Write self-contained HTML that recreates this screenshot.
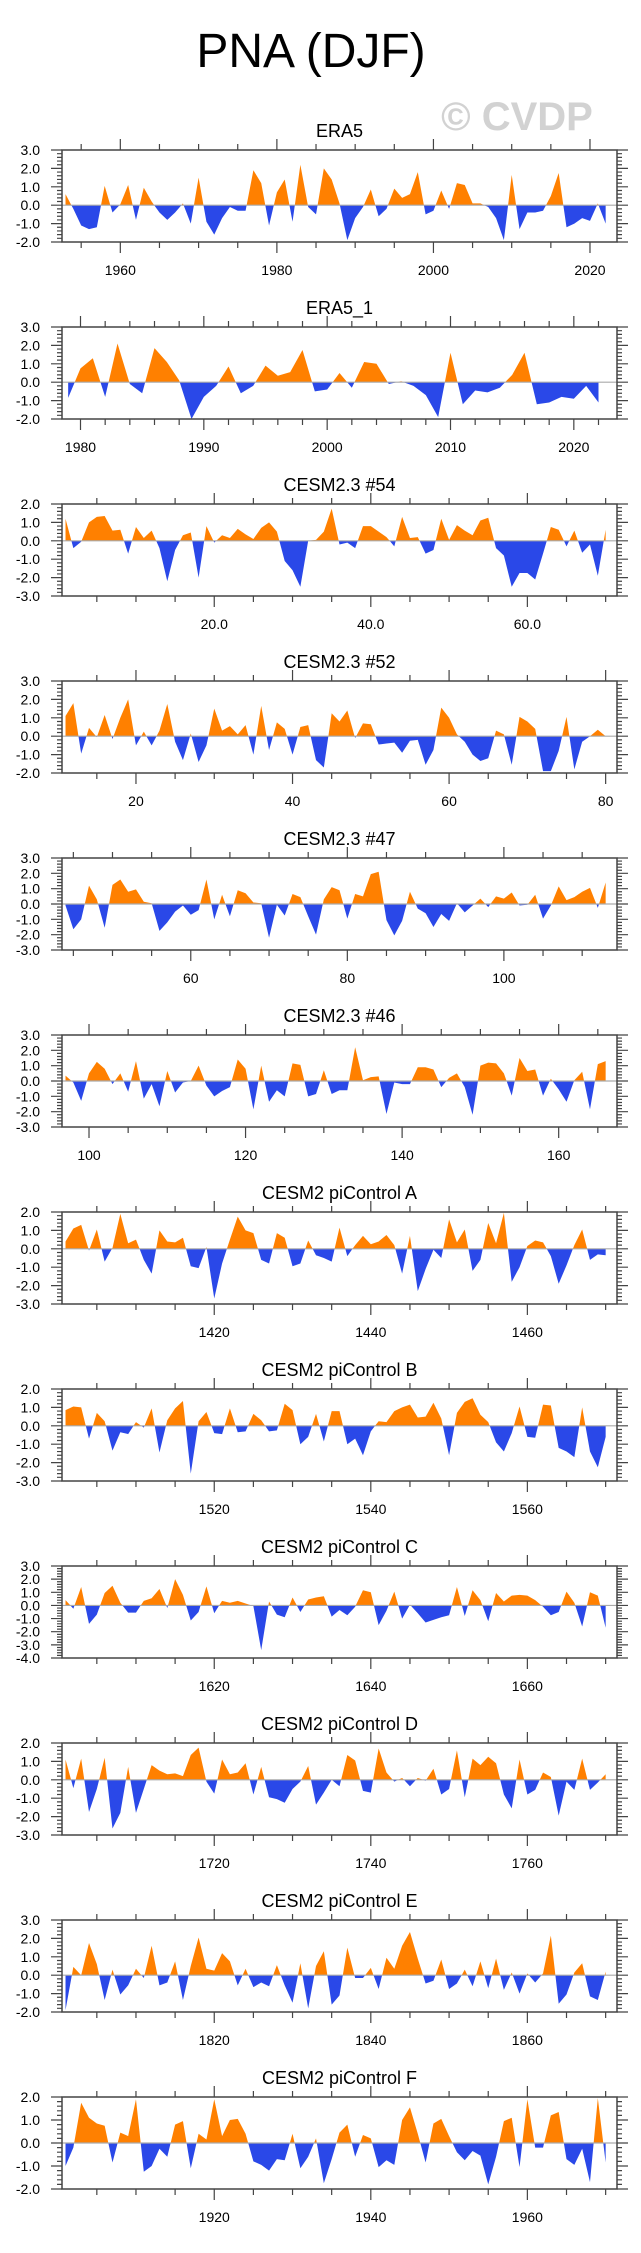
<!DOCTYPE html>
<html><head><meta charset="utf-8"><style>
html,body{margin:0;padding:0;background:#fff;}
svg{display:block;font-family:"Liberation Sans",Arial,sans-serif;}
</style></head><body>
<svg id="chart" width="641" height="2253" viewBox="0 0 641 2253" xmlns="http://www.w3.org/2000/svg">
<text x="311" y="67" font-size="48" text-anchor="middle" fill="#000">PNA (DJF)</text>
<text x="517" y="130" font-size="40" font-weight="bold" text-anchor="middle" fill="#d2d2d2">© CVDP</text>
</svg>
<script>
const panelTitles = ["ERA5","ERA5_1","CESM2.3 #54","CESM2.3 #52","CESM2.3 #47","CESM2.3 #46","CESM2 piControl A","CESM2 piControl B","CESM2 piControl C","CESM2 piControl D","CESM2 piControl E","CESM2 piControl F"];
const panelStarts = [1953,1979,1,11,44,97,1401,1501,1601,1701,1801,1901];
const panelYMax = [3,3,2,3,3,3,2,2,3,2,3,2];
const panelYMin = [-2,-2,-3,-2,-3,-3,-3,-3,-4,-3,-2,-2];
const panelXTicks = [[1960,1980,2000,2020],[1980,1990,2000,2010,2020],[20,40,60],[20,40,60,80],[60,80,100],[100,120,140,160],[1420,1440,1460],[1520,1540,1560],[1620,1640,1660],[1720,1740,1760],[1820,1840,1860],[1920,1940,1960]];
const panelXTickLabels = [["1960","1980","2000","2020"],["1980","1990","2000","2010","2020"],["20.0","40.0","60.0"],["20","40","60","80"],["60","80","100"],["100","120","140","160"],["1420","1440","1460"],["1520","1540","1560"],["1620","1640","1660"],["1720","1740","1760"],["1820","1840","1860"],["1920","1940","1960"]];
const panelXMinor = [5,2,5,5,5,5,5,5,5,5,5,5];

const era5Values = [0.6,-0.2,-1.1,-1.3,-1.2,1.05,-0.4,0.05,1.1,-0.8,0.95,0.2,-0.4,-0.8,-0.4,0.1,-1.0,1.5,-0.9,-1.6,-0.7,-0.1,-0.3,-0.3,1.9,1.2,-1.1,0.7,1.4,-0.9,2.2,-0.1,-0.5,2.0,1.4,0.1,-1.9,-0.7,-0.1,0.85,-0.6,-0.2,0.9,0.4,0.6,1.8,-0.5,-0.3,0.8,-0.2,1.2,1.1,0.1,0.1,-0.1,-0.7,-1.9,1.65,-1.3,-0.4,-0.4,-0.3,0.5,1.75,-1.2,-1.0,-0.7,-0.85,0.1,-1.0];
const era5bValues = [-0.85,0.75,1.3,-0.8,2.1,-0.1,-0.6,1.85,1.1,0.1,-2.0,-0.8,-0.2,0.85,-0.6,-0.2,0.9,0.35,0.55,1.75,-0.5,-0.4,0.5,-0.3,1.1,1.0,-0.1,0.05,-0.2,-0.7,-1.9,1.6,-1.2,-0.45,-0.55,-0.3,0.4,1.6,-1.2,-1.1,-0.8,-0.9,-0.2,-1.1];
const m54Values = [1.2,-0.4,-0.05,1.0,1.3,1.35,0.55,0.6,-0.7,0.75,0.15,0.55,-0.4,-2.2,-0.5,0.3,0.45,-2.0,0.8,-0.1,0.3,0.15,0.65,0.35,0.1,0.7,1.0,0.5,-1.1,-1.6,-2.5,0.0,0.05,0.5,1.75,-0.2,-0.1,-0.4,0.8,0.8,0.5,0.2,-0.3,1.3,0.15,0.2,-0.7,-0.5,1.2,0.05,0.85,0.55,0.3,1.1,1.25,-0.4,-0.8,-2.5,-1.75,-1.75,-2.1,-0.7,0.75,0.6,-0.3,0.55,-0.65,-0.2,-1.9,0.6];
const m52Values = [1.1,1.8,-0.95,0.45,-0.05,1.15,-0.15,1.0,2.0,-0.5,0.25,-0.5,0.3,1.75,-0.3,-1.3,0.15,-1.4,-0.5,1.5,0.3,0.55,0.1,0.6,-1.0,1.65,-0.75,0.75,0.4,-1.0,0.5,0.6,-1.3,-1.7,1.25,0.8,1.4,-0.1,0.7,0.65,-0.45,-0.4,-0.35,-0.9,-0.25,-0.2,-1.55,-0.75,1.55,1.0,0.1,-0.3,-1.0,-1.35,-1.2,0.3,0.1,-1.55,1.05,0.8,0.4,-1.9,-1.9,-0.8,1.05,-1.8,-0.3,0.0,0.35,0.0];
const m47Values = [-0.1,-1.65,-1.0,1.2,0.3,-1.55,1.25,1.6,0.8,0.95,0.15,0.05,-1.75,-1.2,-0.5,-0.1,-0.7,-0.4,1.6,-1.0,0.6,-0.8,0.9,0.7,0.1,0.05,-2.2,-0.05,-0.75,0.65,0.45,-0.8,-2.0,0.3,1.1,0.9,-0.95,0.65,0.5,1.95,2.1,-1.05,-2.05,-1.1,0.8,-0.3,-0.6,-1.5,-0.65,-1.1,0.05,-0.55,-0.1,0.35,-0.2,0.5,0.35,0.75,-0.1,-0.05,0.6,-0.95,-0.1,1.15,0.25,0.45,0.8,1.05,-0.25,1.4];
const m46Values = [0.35,-0.1,-1.3,0.5,1.25,0.8,-0.2,0.5,-0.7,1.3,-1.15,-0.2,-1.65,0.65,-0.75,-0.1,0.0,1.0,-0.3,-1.0,-0.65,-0.4,1.4,0.8,-1.85,1.0,-1.35,-0.6,-1.0,1.15,1.05,-1.0,-0.85,0.7,-0.85,-0.6,-0.6,2.2,0.05,0.25,0.3,-2.15,-0.1,-0.2,-0.2,0.9,0.9,0.75,-0.4,0.2,0.5,-0.4,-2.2,1.0,1.2,1.15,0.5,-0.95,1.5,0.65,0.75,-0.95,0.15,-0.55,-1.35,0.05,0.6,-1.85,1.1,1.3];
const piAValues = [0.4,1.1,1.3,-0.1,1.05,-0.7,0.05,1.9,0.3,0.5,-0.6,-1.35,1.0,0.4,0.35,0.6,-0.95,-1.05,0.1,-2.7,-0.8,0.5,1.75,1.0,0.85,-0.6,-0.8,0.85,0.6,-0.95,-0.8,0.45,-0.35,-0.5,-0.7,1.15,-0.4,0.2,0.7,0.25,0.4,0.75,0.2,-1.35,0.7,-2.3,-1.1,-0.05,-0.5,1.6,0.35,1.05,-1.2,-0.6,1.4,0.3,1.95,-1.8,-1.0,0.15,0.45,0.35,-0.4,-1.9,-0.9,0.2,1.05,-0.6,-0.3,-0.35];
const piBValues = [0.85,1.05,1.0,-0.7,0.7,0.25,-1.35,-0.35,-0.45,0.2,-0.1,0.95,-1.45,0.3,0.95,1.35,-2.6,0.25,0.75,-0.4,-0.45,0.95,-0.35,-0.3,0.65,0.3,-0.3,-0.25,1.2,0.85,-1.0,-0.6,0.65,-0.85,0.8,0.8,-1.0,-0.7,-1.6,-0.3,0.25,0.2,0.8,1.0,1.15,0.45,0.5,1.25,0.4,-1.6,0.7,1.3,1.5,0.6,0.2,-0.9,-1.4,-0.4,1.05,-0.6,-0.65,1.15,1.1,-1.2,-1.4,-1.7,1.0,-1.4,-2.25,-0.6];
const piCValues = [0.4,-0.25,1.4,-1.4,-0.7,0.95,1.5,0.2,-0.55,-0.55,0.35,0.55,1.25,-0.2,2.0,0.8,-1.15,-0.5,1.45,-0.6,0.35,0.2,0.35,0.15,-0.05,-3.4,0.3,-0.7,-0.9,0.6,-0.5,0.45,0.6,0.7,-0.85,-0.35,-0.75,-0.1,1.15,1.0,-1.5,-0.4,1.05,-1.0,0.05,-0.6,-1.3,-1.1,-0.9,-0.75,1.4,-0.8,1.15,0.4,-1.2,0.95,0.3,0.75,0.8,0.75,0.4,-0.1,-0.75,-0.5,1.05,0.2,-1.6,1.0,0.75,-1.7];
const piDValues = [1.1,-0.45,1.15,-1.75,-0.5,1.2,-2.65,-1.8,0.7,-1.8,-0.5,0.8,0.5,0.3,0.35,0.2,1.35,1.75,-0.1,-0.75,1.1,0.3,0.4,0.9,-0.8,0.7,-0.95,-1.05,-1.25,-0.5,-0.1,0.75,-1.35,-0.7,0.0,-0.35,1.35,1.05,-0.6,-0.7,1.7,0.4,-0.1,0.1,-0.35,0.1,-0.05,0.6,-0.8,-0.5,1.6,-0.95,1.15,0.8,1.25,0.9,-0.8,-1.55,1.1,-0.8,-0.55,0.4,0.15,-1.95,-0.1,-0.55,1.15,-0.55,-0.15,0.3];
const piEValues = [-1.9,0.45,0.0,1.75,0.6,-1.35,0.3,-1.05,-0.55,0.35,-0.15,1.6,-0.55,-0.4,0.75,-1.35,0.5,2.05,0.35,0.25,1.2,0.75,-0.55,0.35,-0.65,-0.4,-0.6,0.55,-0.55,-1.5,0.65,-1.8,0.5,1.3,-1.6,-1.1,1.5,-0.15,-0.15,0.4,-0.75,0.95,0.35,1.6,2.35,0.9,-0.45,-0.3,0.85,-0.75,-0.45,0.3,-0.6,0.75,-0.7,0.9,-0.8,0.15,-1.0,0.1,-0.4,0.1,2.15,-1.55,-1.05,0.15,0.65,-1.15,-1.35,0.2];
const piFValues = [-1.0,-0.2,1.75,1.1,0.85,0.75,-0.85,0.45,0.3,1.9,-1.25,-1.0,-0.25,-0.6,0.8,0.95,-1.1,0.4,0.15,1.9,0.3,1.0,1.05,0.4,-0.8,-0.95,-1.2,-0.7,-0.75,0.4,-1.1,-0.6,0.2,-1.75,-0.7,0.45,0.8,-0.6,0.35,0.2,-1.05,-0.75,-0.95,1.0,1.55,0.4,-0.85,0.85,1.05,0.3,-0.4,-0.75,-0.35,-0.55,-1.8,-0.6,0.95,1.1,-1.05,1.9,-0.2,-0.2,1.2,1.35,-0.7,-0.95,-0.25,-1.7,1.95,-0.85];

const panelSeries = [era5Values,era5bValues,m54Values,m52Values,m47Values,m46Values,piAValues,piBValues,piCValues,piDValues,piEValues,piFValues];

const NS = "http://www.w3.org/2000/svg";
const svg = document.getElementById("chart");
const LEFT = 62, RIGHT = 617, PH = 92, TOP0 = 150, STEP = 177;
const AX = "#444";

function mk(tag, attrs, parent) {
  const e = document.createElementNS(NS, tag);
  for (const k in attrs) e.setAttribute(k, attrs[k]);
  (parent || svg).appendChild(e);
  return e;
}

function fillPath(pts, sign, xs, ys) {
  // pts: [[x,v]], build polygon of clipped part
  let d = "";
  const dense = [];
  for (let i = 0; i < pts.length; i++) {
    const [x, v] = pts[i];
    if (i > 0) {
      const [px, pv] = pts[i - 1];
      if ((pv > 0 && v < 0) || (pv < 0 && v > 0)) {
        const t = pv / (pv - v);
        dense.push([px + t * (x - px), 0]);
      }
    }
    dense.push([x, v]);
  }
  d += "M" + xs(dense[0][0]) + "," + ys(0);
  for (const [x, v] of dense) {
    const c = sign > 0 ? Math.max(v, 0) : Math.min(v, 0);
    d += " L" + xs(x).toFixed(2) + "," + ys(c).toFixed(2);
  }
  d += " L" + xs(dense[dense.length - 1][0]) + "," + ys(0) + " Z";
  return d;
}

panelSeries.forEach((vals, p) => {
  const top = TOP0 + STEP * p, bot = top + PH;
  const start = panelStarts[p], end = start + vals.length - 1;
  const xmin = vals.length < 60 ? start - 0.5 : start - 0.45;
  const xmax = vals.length < 60 ? end + 1.5 : end + 1.45;
  const ymax = panelYMax[p], ymin = panelYMin[p];
  const xs = x => LEFT + (x - xmin) / (xmax - xmin) * (RIGHT - LEFT);
  const ys = v => top + (ymax - v) / (ymax - ymin) * PH;

  const g = mk("g", {});
  
  

  const title = mk("text", {x: (LEFT + RIGHT) / 2, y: top - 13, "font-size": 18, "text-anchor": "middle", fill: "#000"}, g);
  title.textContent = panelTitles[p];
  
  

  const pts = vals.map((v, i) => [start + i, v]);
  const pos = mk("path", {d: fillPath(pts, 1, xs, ys), fill: "#ff8000"}, g);
  
  
  const neg = mk("path", {d: fillPath(pts, -1, xs, ys), fill: "#2a48e8"}, g);
  
  

  const zl = mk("line", {x1: LEFT, x2: RIGHT, y1: ys(0), y2: ys(0), stroke: "#aaa", "stroke-width": 1.2}, g);
  
  

  const frame = mk("rect", {x: LEFT, y: top, width: RIGHT - LEFT, height: PH, fill: "none", stroke: AX, "stroke-width": 1.5}, g);
  
  

  // y ticks
  let td = "";
  for (let k = Math.round(ymin * 5); k <= Math.round(ymax * 5); k++) {
    const v = k / 5, y = ys(v).toFixed(2);
    const major = k % 5 === 0;
    const L = major ? 11 : 5;
    td += "M" + (LEFT - L) + "," + y + "H" + LEFT + "M" + RIGHT + "," + y + "H" + (RIGHT + L);
    if (major) {
      const lab = mk("text", {x: 40, y: ys(v) + 5, "font-size": 14, "text-anchor": "end", fill: "#000"}, g);
      lab.textContent = v.toFixed(1);
      
      
    }
  }
  // x ticks
  const minor = panelXMinor[p];
  const majors = panelXTicks[p];
  for (let x = Math.ceil(xmin / minor) * minor; x <= xmax; x += minor) {
    const isMajor = majors.indexOf(x) >= 0;
    const L = isMajor ? 11 : 6;
    const X = xs(x).toFixed(2);
    td += "M" + X + "," + (top - L) + "V" + top + "M" + X + "," + bot + "V" + (bot + L);
  }
  const ticks = mk("path", {d: td, stroke: AX, "stroke-width": 1.2, fill: "none"}, g);
  
  

  majors.forEach((x, j) => {
    const lab = mk("text", {x: xs(x), y: bot + 33, "font-size": 14, "text-anchor": "middle", fill: "#000"}, g);
    lab.textContent = panelXTickLabels[p][j];
    
    
  });
});
</script>
</body></html>
